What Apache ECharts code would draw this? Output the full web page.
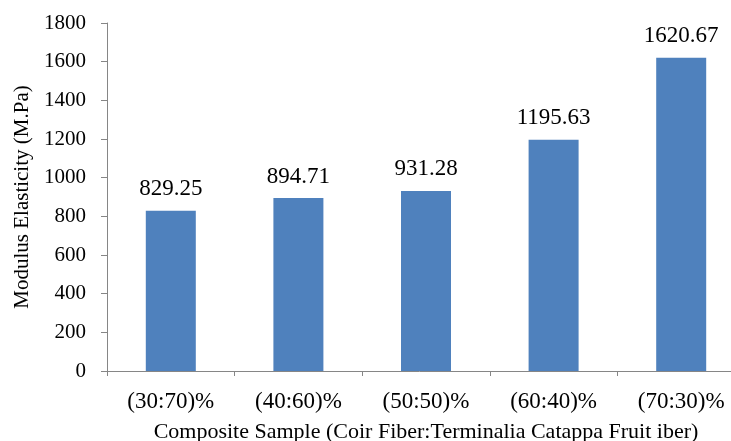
<!DOCTYPE html>
<html>
<head>
<meta charset="utf-8">
<script src="https://cdn.jsdelivr.net/npm/echarts@6/dist/echarts.min.js"></script>
<style>
  html, body { margin: 0; padding: 0; background: #fff; }
  #chart { width: 731px; height: 441px; }
</style>
</head>
<body>
<div id="chart"></div>
<script>
// Composite sample ratios and their modulus of elasticity
const categories = ['(30:70)%', '(40:60)%', '(50:50)%', '(60:40)%', '(70:30)%'];
const modulusValues = [829.25, 894.71, 931.28, 1195.63, 1620.67];
const yTicks = { min: 0, max: 1800, interval: 200 };
const xTitle = 'Composite Sample (Coir Fiber:Terminalia Catappa Fruit iber)';
const yTitle = 'Modulus Elasticity (M.Pa)';

const serif = '"Liberation Serif", "Times New Roman", serif';
const axisGrey = '#868686';

const chart = echarts.init(document.getElementById('chart'), null, { renderer: 'canvas' });
chart.setOption({
  animation: false,
  backgroundColor: '#ffffff',
  grid: {
    left: 107, right: -14, top: 23, bottom: 70,
    containLabel: false,
    outerBoundsMode: 'none'
  },
  xAxis: {
    type: 'category',
    data: categories,
    boundaryGap: true,
    name: xTitle,
    nameLocation: 'middle',
    nameGap: 50,
    nameTextStyle: { fontFamily: serif, fontSize: 22, color: '#000' },
    axisLine: { lineStyle: { color: axisGrey, width: 1 } },
    axisTick: { show: true, length: 5, inside: false, lineStyle: { color: axisGrey } },
    axisLabel: { fontFamily: serif, fontSize: 23, color: '#000', margin: 19 },
    splitLine: { show: false }
  },
  yAxis: {
    type: 'value',
    min: yTicks.min,
    max: yTicks.max,
    interval: yTicks.interval,
    name: yTitle,
    nameLocation: 'middle',
    nameGap: 74,
    nameRotate: 90,
    nameTextStyle: { fontFamily: serif, fontSize: 21, color: '#000' },
    axisLine: { show: true, lineStyle: { color: axisGrey, width: 1 } },
    axisTick: { show: true, length: 6, inside: false, lineStyle: { color: axisGrey } },
    axisLabel: {
      fontFamily: serif, fontSize: 21, color: '#000', margin: 21,
      formatter: v => String(v)
    },
    splitLine: { show: false }
  },
  series: [{
    type: 'bar',
    data: modulusValues,
    barWidth: 50,
    itemStyle: { color: '#4F81BD' },
    label: {
      show: true,
      position: 'top',
      distance: 10,
      fontFamily: serif,
      fontSize: 23,
      color: '#000',
      formatter: p => p.value.toFixed(2)
    }
  }]
});
</script>
</body>
</html>
